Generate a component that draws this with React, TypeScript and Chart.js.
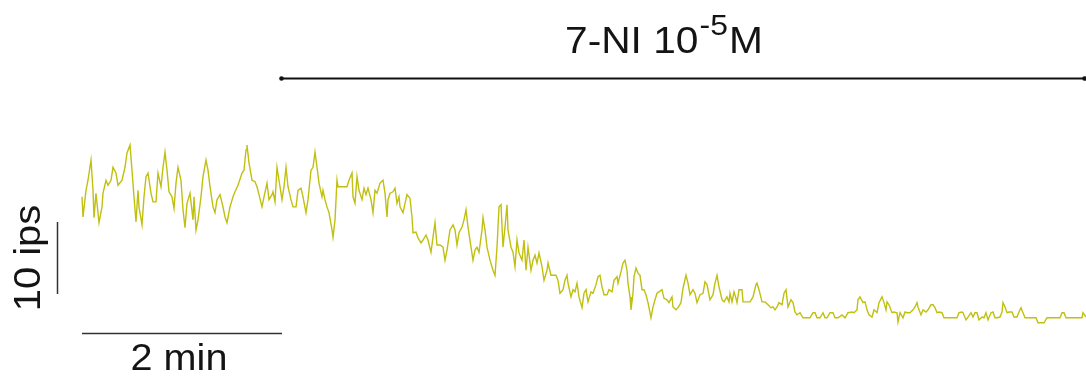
import React, { useEffect, useRef } from "react";
import { Chart, registerables } from "chart.js";

Chart.register(...registerables);

// ---- Data: firing rate (impulses per second) vs time (seconds) ----
// Control period before drug application
const CONTROL: [number, number][] = [
  [0, 18.5], [0.6, 15.7], [2.4, 19.4], [3.6, 20.8], [5.4, 23.6], [6.6, 19.4], [7.2, 15.6], [8.4, 19.0],
  [9.0, 17.6], [10.2, 14.9], [12.0, 17.1], [12.6, 19.0], [14.4, 20.8], [15.6, 20.1], [17.4, 20.8], [18.6, 22.6],
  [20.4, 21.8], [21.6, 20.1], [24.0, 20.8], [25.8, 22.6], [27.0, 24.6], [28.8, 25.7], [30.0, 22.2], [31.2, 18.5],
  [32.4, 15.0], [33.6, 19.4], [34.2, 17.1], [36.0, 14.6], [37.2, 18.5], [38.4, 21.3], [39.6, 21.8], [41.4, 19.0],
  [42.6, 17.8], [44.4, 17.8], [45.6, 21.8], [47.4, 19.9], [48.6, 22.6], [49.8, 24.7], [51.0, 22.2], [52.2, 19.2],
  [54.0, 18.5], [55.2, 16.9], [56.4, 20.4], [57.6, 22.6], [59.4, 20.8], [60.6, 16.7], [61.8, 14.2], [63.0, 17.6],
  [64.8, 19.0], [66.6, 15.3], [67.2, 18.5], [68.4, 13.9], [69.6, 15.3], [71.4, 18.5], [72.6, 21.3], [74.4, 23.6],
  [75.6, 22.2], [76.8, 19.9], [78.6, 17.1], [79.8, 16.3], [81.0, 18.1], [82.8, 18.8], [84.6, 17.1], [85.8, 15.7],
  [87.0, 14.9], [88.8, 17.1], [90.6, 18.5], [91.8, 19.2], [93.6, 20.1], [96.0, 21.8], [97.2, 22.2], [98.4, 25.0],
  [99.0, 25.7], [100.2, 23.2], [102.0, 20.8], [103.8, 20.6], [105.0, 19.9], [106.2, 18.8], [108.0, 17.1], [109.2, 18.5],
  [111.0, 20.4], [112.2, 18.1], [114.0, 18.8], [114.6, 19.2], [115.8, 17.8], [117.0, 22.6], [118.2, 20.8],
];

// Early drug period
const ONSET: [number, number][] = [
  [120.0, 18.1], [121.2, 19.9], [122.4, 22.6], [123.6, 19.9], [125.4, 18.1], [126.6, 17.1], [128.4, 17.1], [129.6, 19.4],
  [131.4, 19.7], [132.6, 18.5], [134.4, 16.3], [135.6, 18.1], [137.4, 22.2], [138.6, 22.6], [139.8, 24.7], [141.0, 22.6],
  [142.2, 20.4], [144.0, 18.5], [144.6, 19.4], [145.8, 18.1], [147.0, 17.1], [148.2, 16.3], [150.0, 13.9], [150.6, 12.9],
  [151.8, 15.3], [153.0, 20.8], [153.6, 19.9], [155.4, 19.9], [157.2, 19.9], [159.0, 19.9], [160.2, 20.8], [162.0, 21.8],
  [162.6, 18.5], [163.8, 17.6], [165.0, 21.3], [166.2, 19.4], [168.0, 18.1], [169.2, 19.7], [170.4, 18.8], [171.6, 19.7],
  [173.4, 18.1], [174.6, 16.3], [175.8, 19.4], [177.0, 19.0], [178.8, 20.4], [180.6, 20.8], [181.8, 19.0], [183.0, 15.7],
  [183.6, 18.1], [184.8, 19.0], [186.6, 19.2], [187.8, 19.7], [189.0, 17.6], [190.2, 18.5], [190.8, 17.1], [192.6, 16.3],
  [193.8, 17.6], [195.0, 18.8], [196.8, 18.3], [198.0, 15.7], [198.6, 13.5],
];

// Declining phase
const DECLINE: [number, number][] = [
  [200.4, 13.6], [201.6, 12.8], [203.4, 12.1], [204.6, 12.5], [206.4, 13.2], [207.6, 12.5], [209.4, 10.8], [210.6, 12.9],
  [211.8, 14.9], [213.0, 11.8], [214.8, 11.8], [216.6, 11.5], [217.8, 9.7], [219.0, 11.1], [220.8, 13.9], [222.6, 14.6],
  [223.8, 13.9], [225.0, 11.8], [226.2, 13.5], [228.0, 14.3], [229.2, 15.3], [230.4, 16.7], [231.6, 14.3], [233.4, 11.5],
  [234.6, 9.7], [235.8, 11.1], [237.0, 11.5], [238.2, 10.8], [240.0, 13.9], [240.6, 15.6], [241.8, 13.9], [243.0, 11.5],
  [244.8, 9.7], [246.6, 8.3], [247.8, 7.6], [249.0, 11.5], [250.2, 17.1], [251.4, 17.4], [252.6, 11.5], [253.8, 14.3],
  [255.0, 17.4], [255.6, 13.9], [257.4, 11.5], [258.6, 10.8], [259.8, 8.8], [261.0, 12.5], [262.2, 10.7], [264.0, 9.7],
  [265.2, 12.5], [266.4, 8.3], [267.6, 11.5], [269.4, 8.3], [270.6, 9.7], [271.8, 10.4], [273.0, 9.3], [274.2, 10.7],
  [276.0, 8.8], [277.2, 6.9], [279.0, 8.3], [279.6, 9.3], [281.4, 7.6], [282.6, 7.6], [284.4, 7.6], [285.6, 6.9],
  [286.8, 5.1], [288.6, 5.6], [289.8, 6.9], [291.0, 7.6], [291.6, 6.5], [293.4, 4.6], [294.6, 5.6], [295.8, 5.3],
  [297.0, 6.5], [298.2, 4.6],
];

// Low-rate phase
const TROUGH: [number, number][] = [
  [300.0, 3.1], [301.2, 5.1], [302.4, 5.6], [303.6, 3.9], [305.4, 5.3], [306.6, 5.1], [308.4, 6.3], [309.6, 7.4],
  [310.8, 7.6], [312.0, 6.0], [313.2, 4.9], [315.0, 4.9], [316.2, 5.6], [318.0, 5.3], [319.2, 6.9], [321.0, 7.4],
  [321.6, 6.5], [323.4, 8.1], [324.6, 9.3], [325.8, 9.7], [327.0, 8.3], [327.6, 6.5], [328.8, 4.6], [329.4, 2.8],
  [330.6, 5.1], [331.2, 7.4], [332.4, 8.6], [333.6, 7.9], [334.8, 7.6], [336.0, 5.6], [337.2, 5.6], [338.4, 4.9],
  [339.6, 3.8], [341.4, 1.7], [342.6, 3.2], [343.8, 4.2], [345.0, 5.1], [346.2, 5.3], [348.0, 5.6], [349.2, 4.4],
  [351.0, 4.2], [352.2, 3.8], [354.0, 4.6], [354.6, 3.2], [356.4, 2.8], [357.6, 3.1], [359.4, 3.8], [360.6, 5.8],
  [362.4, 7.6], [363.6, 6.5], [364.8, 4.9], [366.6, 5.6], [367.8, 5.1], [369.0, 3.8], [370.8, 4.9], [372.6, 5.1],
  [373.8, 6.7], [375.0, 6.3], [376.8, 4.2], [378.6, 4.9], [379.8, 6.5], [381.0, 7.6], [382.2, 6.0], [384.0, 4.2],
  [385.2, 3.9], [387.0, 4.6], [388.2, 3.9], [388.8, 5.1], [390.0, 3.9], [391.2, 5.3], [392.4, 4.4], [393.0, 3.8],
  [394.2, 5.6], [396.0, 5.6], [396.6, 3.9], [399.0, 3.9], [400.8, 3.9], [402.6, 4.6], [404.4, 6.3], [405.0, 6.5],
  [406.2, 5.6], [408.0, 3.9], [409.8, 3.9], [411.6, 3.5], [413.4, 3.1], [414.6, 3.2], [415.8, 2.8], [417.0, 3.2],
  [418.2, 3.8], [420.0, 3.5], [421.2, 5.1], [422.4, 5.6], [423.6, 3.2], [425.4, 4.2], [426.6, 3.8], [427.8, 2.5],
  [429.0, 2.1],
];

// Suppressed plateau
const PLATEAU: [number, number][] = [
  [430.8, 2.4], [432.6, 1.7], [435.0, 1.7], [436.8, 1.7], [438.6, 2.4], [439.8, 2.4], [441.0, 1.7], [442.8, 1.7],
  [444.6, 2.4], [445.8, 1.7], [447.0, 1.7], [448.8, 2.4], [450.6, 2.4], [451.8, 1.7], [453.6, 1.7], [456.0, 2.1],
  [457.8, 1.7], [459.6, 2.4], [462.0, 2.5], [463.2, 2.4], [465.0, 2.8], [465.6, 4.2], [466.8, 4.6], [468.6, 3.8],
  [469.8, 3.9], [471.0, 2.8], [472.2, 2.1], [474.0, 1.8], [475.2, 2.8], [477.0, 2.4], [478.2, 3.8], [480.0, 4.6],
  [481.2, 3.8], [482.4, 2.8], [483.0, 3.9], [484.2, 3.5], [486.0, 2.4], [487.2, 2.5], [489.0, 2.4], [489.6, 1.1],
  [490.8, 2.4], [492.6, 1.7], [493.8, 2.5], [495.0, 2.4], [496.8, 2.4], [498.6, 2.8], [499.8, 3.2], [501.0, 3.8],
  [501.6, 3.2], [503.4, 2.1], [504.6, 2.8], [506.4, 2.5], [507.6, 2.8], [509.4, 3.5], [510.6, 3.5], [511.8, 3.1],
  [513.0, 2.4], [514.2, 2.5], [516.0, 2.4], [517.2, 1.7], [519.0, 1.7], [520.8, 1.7], [522.6, 1.7], [525.0, 1.7],
  [526.2, 2.4], [528.0, 2.5], [528.6, 2.4], [530.4, 1.4], [531.6, 1.8], [533.4, 2.4], [534.6, 1.8], [535.8, 2.4],
  [537.0, 2.4], [538.2, 1.4], [540.0, 1.8], [541.2, 1.7], [542.4, 2.4], [543.6, 1.4], [545.4, 2.4], [546.6, 2.5],
  [547.8, 1.7], [549.0, 1.7], [550.8, 1.8], [552.0, 2.5], [552.6, 3.8], [553.8, 3.2], [555.0, 2.4], [556.2, 2.5],
  [558.0, 2.5], [559.2, 1.8], [561.0, 1.8], [562.2, 2.5], [563.4, 3.1], [564.6, 2.4], [565.8, 1.7], [567.0, 1.7],
  [569.4, 1.7], [570.6, 1.7], [572.4, 1.7], [573.6, 1.0], [576.0, 1.0], [577.2, 1.0], [579.0, 1.7], [580.8, 1.7],
  [582.6, 1.7], [583.8, 1.7], [585.0, 1.7], [586.8, 1.7], [588.0, 2.4], [589.2, 2.4], [590.4, 1.7], [591.6, 1.7],
  [594.0, 1.7], [595.8, 1.7], [597.6, 1.7], [600.0, 1.7], [600.6, 2.4], [602.4, 1.8],
];

// Drug application period and labels
const DRUG_START_S = 118.8;
const DRUG_END_S = 602.4;
const DRUG_NAME = "7-NI 10";
const DRUG_EXPONENT = "-5";
const DRUG_UNIT = "M";

// Scale bars
const TIME_BAR_S: [number, number] = [0, 120];
const TIME_BAR_LABEL = "2 min";
const RATE_BAR_IPS: [number, number] = [5, 15];
const RATE_BAR_LABEL = "10 ips";

// Axis extents (hidden axes)
const X_MIN = -49.2;
const X_MAX = 602.4;
const Y_MIN = -50 / 7.2;
const Y_MAX = 330 / 7.2;

const TRACE = [...CONTROL, ...ONSET, ...DECLINE, ...TROUGH, ...PLATEAU].map(([t, r]) => ({ x: t, y: r }));

const FONT = "'Liberation Sans', Arial, sans-serif";
const TEXT_STRETCH = 1.1;

const overlayPlugin = {
  id: "overlay",
  afterDraw(chart: any) {
    const { ctx } = chart;
    const xs = chart.scales.x;
    const ys = chart.scales.y;
    const px = (v: number) => xs.getPixelForValue(v);
    const py = (v: number) => ys.getPixelForValue(v);
    ctx.save();

    // Drug bar
    const yb = Math.round(py(35)) + 0.5;
    const x0 = px(DRUG_START_S);
    const x1 = px(DRUG_END_S);
    ctx.strokeStyle = "#111";
    ctx.lineWidth = 2.2;
    ctx.beginPath();
    ctx.moveTo(x0, yb);
    ctx.lineTo(x1, yb);
    ctx.stroke();
    ctx.fillStyle = "#111";
    ctx.beginPath();
    ctx.arc(x0 + 1.5, yb, 2.3, 0, Math.PI * 2);
    ctx.fill();
    ctx.beginPath();
    ctx.arc(x1 - 1.5, yb, 2.3, 0, Math.PI * 2);
    ctx.fill();

    // Drug label with superscript (slightly stretched horizontally)
    ctx.fillStyle = "#141414";
    ctx.textBaseline = "alphabetic";
    ctx.textAlign = "left";
    const bigFont = `37px ${FONT}`;
    const supFont = `29px ${FONT}`;
    ctx.font = bigFont;
    const w1 = ctx.measureText(DRUG_NAME).width;
    const w3 = ctx.measureText(DRUG_UNIT).width;
    ctx.font = supFont;
    const w2 = ctx.measureText(DRUG_EXPONENT).width;
    const total = (w1 + w2 + w3 + 2) * TEXT_STRETCH;
    const cx = px(349.2);
    ctx.save();
    ctx.translate(cx - total / 2, 0);
    ctx.scale(TEXT_STRETCH, 1);
    const base = py(38.5);
    let sx = 0;
    ctx.font = bigFont;
    ctx.fillText(DRUG_NAME, sx, base);
    sx += w1 + 1;
    ctx.font = supFont;
    ctx.fillText(DRUG_EXPONENT, sx, py(41.0));
    sx += w2 + 1;
    ctx.font = bigFont;
    ctx.fillText(DRUG_UNIT, sx, base);
    ctx.restore();

    // Rate scale bar
    ctx.strokeStyle = "#333";
    ctx.lineWidth = 1.5;
    const vx = Math.round(px(-14.7)) + 0.5;
    ctx.beginPath();
    ctx.moveTo(vx, py(RATE_BAR_IPS[0]));
    ctx.lineTo(vx, py(RATE_BAR_IPS[1]));
    ctx.stroke();

    // Time scale bar
    const hy = Math.round(py(-0.46)) + 0.5;
    ctx.beginPath();
    ctx.moveTo(px(TIME_BAR_S[0]), hy);
    ctx.lineTo(px(TIME_BAR_S[1]), hy);
    ctx.stroke();

    // Time bar label
    ctx.fillStyle = "#141414";
    ctx.textAlign = "center";
    ctx.save();
    ctx.translate(px(58.2), py(-5.56));
    ctx.scale(TEXT_STRETCH, 1);
    ctx.font = `36px ${FONT}`;
    ctx.fillText(TIME_BAR_LABEL, 0, 0);
    ctx.restore();

    // Rate bar label (rotated)
    ctx.save();
    ctx.translate(px(-25.2), py(10.0));
    ctx.rotate(-Math.PI / 2);
    ctx.scale(1.08, 1);
    ctx.font = `37px ${FONT}`;
    ctx.fillText(RATE_BAR_LABEL, 0, 0);
    ctx.restore();

    ctx.restore();
  },
};

export default function App() {
  const canvasRef = useRef<HTMLCanvasElement | null>(null);

  useEffect(() => {
    const canvas = canvasRef.current;
    if (!canvas) return;
    const chart = new Chart(canvas, {
      type: "line",
      data: {
        datasets: [
          {
            label: "Firing rate",
            data: TRACE,
            borderColor: "#c0c010",
            borderWidth: 1.4,
            pointRadius: 0,
            tension: 0,
            fill: false,
          },
        ],
      },
      options: {
        animation: false,
        responsive: false,
        devicePixelRatio: 1,
        layout: { padding: 0 },
        plugins: { legend: { display: false }, tooltip: { enabled: false }, title: { display: false } },
        scales: {
          x: { type: "linear", min: X_MIN, max: X_MAX, display: false },
          y: { type: "linear", min: Y_MIN, max: Y_MAX, display: false },
        },
      },
      plugins: [overlayPlugin],
    });
    return () => chart.destroy();
  }, []);

  return (
    <div style={{ position: "absolute", left: 0, top: 0, width: 1086, height: 380, background: "#fff" }}>
      <canvas ref={canvasRef} width={1086} height={380} />
    </div>
  );
}
